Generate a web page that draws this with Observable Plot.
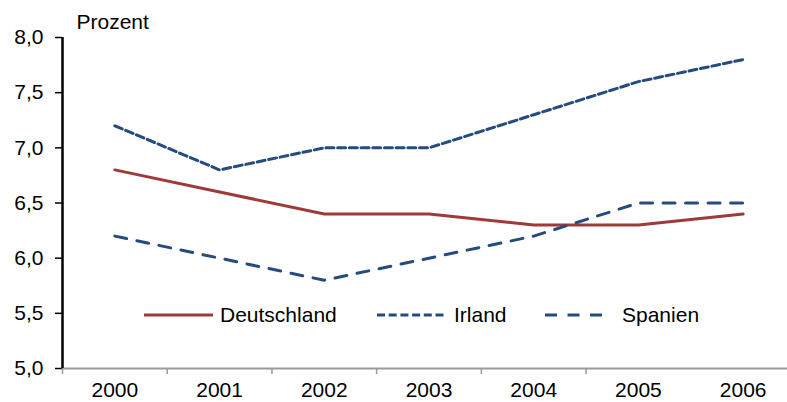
<!DOCTYPE html>
<html>
<head>
<meta charset="utf-8">
<script src="https://cdn.jsdelivr.net/npm/d3@7"></script>
<script src="https://cdn.jsdelivr.net/npm/@observablehq/plot@0.6"></script>
<style>
  body { margin: 0; background: #fff; overflow: hidden; }
  #chart { position: relative; width: 787px; height: 402px; font-family: "Liberation Sans", Arial, sans-serif; }
  .item { position: absolute; top: 303px; display: flex; align-items: center; font-size: 21px; color: #000; }
  .item svg { margin-right: 7px; }
</style>
</head>
<body>
<div id="chart"></div>
<script>
// Werte in Prozent
const years = [2000, 2001, 2002, 2003, 2004, 2005, 2006];
const deutschland = [6.8, 6.6, 6.4, 6.4, 6.3, 6.3, 6.4];
const irland = [7.2, 6.8, 7.0, 7.0, 7.3, 7.6, 7.8];
const spanien = [6.2, 6.0, 5.8, 6.0, 6.2, 6.5, 6.5];
const yTicks = [5.0, 5.5, 6.0, 6.5, 7.0, 7.5, 8.0];

const brown = "#9e3b38";
const blue = "#264b7e";

const series = [
  { name: "Deutschland", values: deutschland, stroke: brown, dash: null },
  { name: "Irland", values: irland, stroke: blue, dash: "8 3.7" },
  { name: "Spanien", values: spanien, stroke: blue, dash: "12 10.5" }
];

const rows = series.flatMap(s => years.map((year, i) => ({ name: s.name, year, value: s.values[i] })));
const bounds = years.slice(0, -1).map(y => y - 0.5);
const fmt = d => d3.format(".1f")(d).replace(".", ",");

const p = Plot.plot({
  width: 787,
  height: 402,
  marginTop: 37,
  marginBottom: 34,
  marginLeft: 62,
  marginRight: 0,
  style: { fontFamily: "Liberation Sans, Arial, sans-serif", fontSize: "21px", color: "#000", overflow: "visible" },
  x: { domain: [1999.5, 2006.5], range: [62, 795] },
  y: { domain: [5, 8] },
  marks: [
    Plot.axisY({ ticks: yTicks, tickFormat: fmt, tickSize: 7, tickPadding: 12, label: null, stroke: "#000", strokeWidth: 1.5, fontSize: 21 }),
    Plot.axisX({ ticks: bounds, text: null, tickSize: 6, label: null, stroke: "#999", strokeWidth: 1.5 }),
    Plot.axisX({ ticks: years, tickFormat: d => String(d), tickSize: 0, tickPadding: 14, label: null, fontSize: 21 }),
    Plot.ruleY([5], { stroke: "#999", strokeWidth: 2 }),
    Plot.ruleX([1999.5], { y1: 5, y2: 8, stroke: "#000", strokeWidth: 2.5 }),
    ...series.map(s => Plot.lineY(rows.filter(r => r.name === s.name), {
      x: "year", y: "value", stroke: s.stroke, strokeWidth: 3, strokeDasharray: s.dash
    })),
    Plot.text(["Prozent"], { frameAnchor: "top-left", dx: 14, dy: -15, textAnchor: "start", lineAnchor: "middle", fontSize: 21 })
  ]
});

const chart = document.getElementById("chart");
chart.appendChild(p);

// Legende im Diagramm
const legendPos = [
  { left: 144, len: 69 },
  { left: 377, len: 70 },
  { left: 545, len: 57 }
];
series.forEach((s, i) => {
  const item = document.createElement("div");
  item.className = "item";
  item.style.left = legendPos[i].left + "px";
  const svg = d3.create("svg").attr("width", legendPos[i].len).attr("height", 24);
  svg.append("line").attr("x1", 0).attr("x2", legendPos[i].len).attr("y1", 12).attr("y2", 12)
    .attr("stroke", s.stroke).attr("stroke-width", 3).attr("stroke-dasharray", s.dash);
  item.appendChild(svg.node());
  const label = document.createElement("span");
  label.textContent = s.name;
  if (i === 2) label.style.marginLeft = "13px";
  item.appendChild(label);
  chart.appendChild(item);
});
</script>
</body>
</html>
